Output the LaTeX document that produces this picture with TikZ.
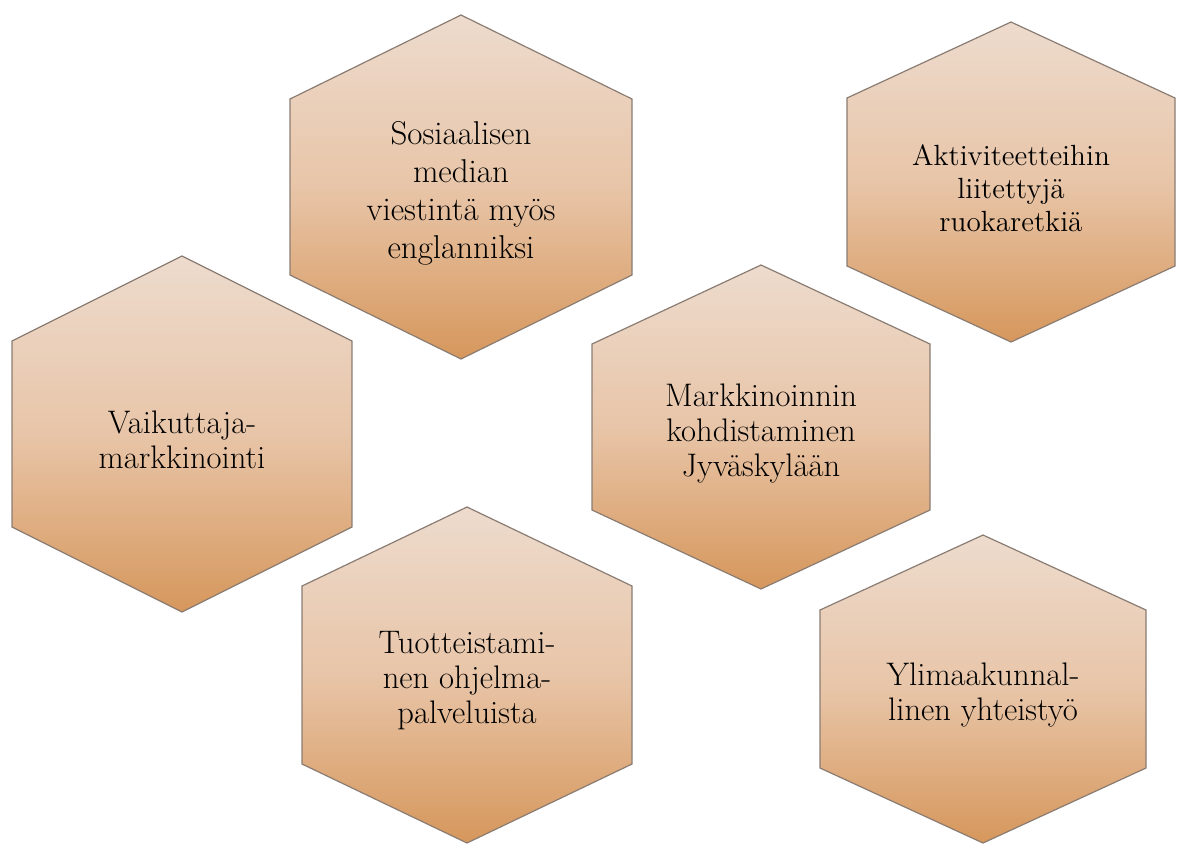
\documentclass[tikz,border=0pt]{standalone}
\usepackage{tikz}
\definecolor{celltop}{RGB}{237,219,205}
\definecolor{cellmid}{RGB}{232,197,168}
\definecolor{cellbottom}{RGB}{214,151,92}
\definecolor{cellrim}{RGB}{138,124,114}
\pgfdeclareverticalshading{honey}{100bp}{color(0bp)=(cellbottom); color(25bp)=(cellbottom); color(50bp)=(cellmid); color(75bp)=(celltop); color(100bp)=(celltop)}
\tikzset{
    cell/.style = {shading=honey, draw=cellrim, line width=0.6pt, line join=miter},
    celltext/.style = {align=center, inner sep=0pt, text centered, font=\fontsize{16.3}{17.5}\selectfont}
}
% name, centre x, centre y, half width, half height, half side, text
\newcommand{\honeycell}[8][]{%
    \shade[cell] (#3,#4-#6) -- (#3+#5,#4-#7) -- (#3+#5,#4+#7) -- (#3,#4+#6)
        -- (#3-#5,#4+#7) -- (#3-#5,#4-#7) -- cycle;
    \node [celltext,#1] (#2) at (#3,#4+6) {#8};
}

\begin{document}
\begin{tikzpicture}[x=0.5pt, y=-0.5pt]
    \useasboundingbox (0,0) rectangle (1178,843);
    \honeycell[font=\fontsize{16.5}{19}\selectfont]{sosiaalinen}{461}{187}{171}{172}{88}{Sosiaalisen\\median\\viestintä myös\\englanniksi}
    \honeycell[font=\fontsize{14.6}{16.5}\selectfont]{aktiviteetit}{1011}{182}{164}{160}{84}{Aktiviteetteihin\\liitettyjä\\ruokaretkiä}
    \honeycell{vaikuttaja}{182}{434}{170}{178}{93}{Vaikuttaja-\\markkinointi}
    \honeycell{kohdistaminen}{761}{427}{169}{162}{83}{Markkinoinnin\\kohdistaminen\\Jyväskylään}
    \honeycell{tuotteistaminen}{467}{675}{165}{168}{89}{Tuotteistami-\\nen ohjelma-\\palveluista}
    \honeycell{ylimaakunta}{983}{689}{163}{154}{79}{Ylimaakunnal-\\linen yhteistyö}
\end{tikzpicture}
\end{document}
